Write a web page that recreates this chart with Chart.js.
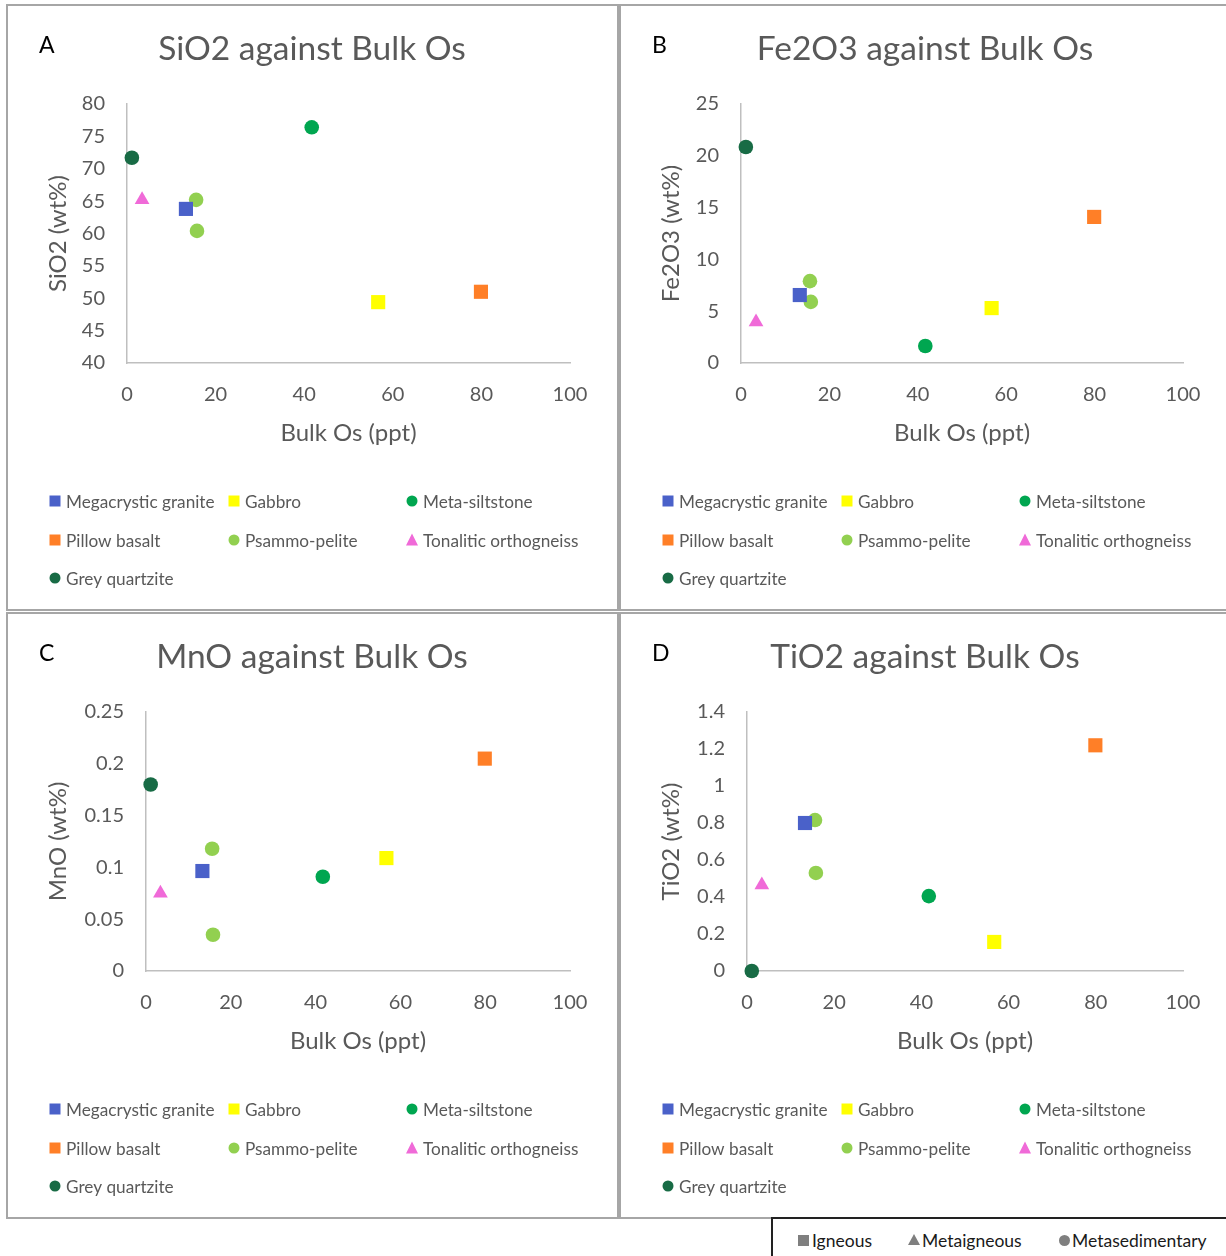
<!DOCTYPE html>
<html>
<head>
<meta charset="utf-8">
<script src="https://cdn.jsdelivr.net/npm/chart.js@4.4.1/dist/chart.umd.min.js"></script>
<style>
  html, body { margin: 0; padding: 0; background: #fff; }
  #page { position: relative; width: 1226px; height: 1256px; overflow: hidden; background: #fff; font-family: Lato, sans-serif; }
  .box { position: absolute; box-sizing: border-box; border: 2px solid #A6A6A6; }
  .cv { position: absolute; }
  #keybox { position: absolute; left: 771px; top: 1217px; width: 470px; height: 50px; box-sizing: border-box; border-top: 2px solid #222; border-left: 2px solid #222; }
  .key { position: absolute; top: 1231px; font-size: 17.5px; color: #1a1a1a; line-height: 20px; }
  .sq { position: absolute; width: 11px; height: 11px; background: #7F7F7F; }
  .ci { position: absolute; width: 11px; height: 11px; border-radius: 50%; background: #7F7F7F; }
  .tr { position: absolute; width: 0; height: 0; border-left: 6px solid transparent; border-right: 6px solid transparent; border-bottom: 11px solid #7F7F7F; }
</style>
</head>
<body>
<div id="page">
  <div class="box" style="left:6px;top:4px;width:613px;height:607px;"></div>
  <div class="box" style="left:619px;top:4px;width:613px;height:607px;"></div>
  <div class="box" style="left:6px;top:612px;width:613px;height:607px;"></div>
  <div class="box" style="left:619px;top:612px;width:613px;height:607px;"></div>
  <canvas class="cv" id="cA" style="left:7px;top:5px;"></canvas>
  <canvas class="cv" id="cB" style="left:620px;top:5px;"></canvas>
  <canvas class="cv" id="cC" style="left:7px;top:613px;"></canvas>
  <canvas class="cv" id="cD" style="left:620px;top:613px;"></canvas>
  <div id="keybox"></div>
  <div class="sq" style="left:798px;top:1235px;"></div>
  <div class="key" style="left:812px;">Igneous</div>
  <div class="tr" style="left:908px;top:1234px;"></div>
  <div class="key" style="left:922px;">Metaigneous</div>
  <div class="ci" style="left:1059px;top:1235px;"></div>
  <div class="key" style="left:1072px;">Metasedimentary</div>
</div>
<script>
// ---- data ----
const seriesNames = ['Megacrystic granite', 'Gabbro', 'Meta-siltstone', 'Pillow basalt', 'Psammo-pelite', 'Tonalitic orthogneiss', 'Grey quartzite'];
const seriesColors = ['#4A61C9', '#FFFF00', '#00A650', '#FF7F27', '#92D050', '#F06AD8', '#186B45'];
const seriesShapes = ['rect', 'rect', 'circle', 'rect', 'circle', 'triangle', 'circle'];
const bulkOs = [[13.3], [56.7], [41.7], [79.9], [15.6, 15.8], [3.4], [1.1]];
const sio2 = [[63.8], [49.4], [76.4], [51.0], [65.2, 60.4], [65.2], [71.7]];
const fe2o3 = [[6.56], [5.3], [1.64], [14.1], [7.9, 5.9], [3.96], [20.85]];
const mno = [[0.0965], [0.109], [0.091], [0.205], [0.118, 0.035], [0.075], [0.18]];
const tio2 = [[0.80], [0.157], [0.405], [1.22], [0.816, 0.53], [0.465], [0.0]];
const xTicks = [0, 20, 40, 60, 80, 100];
const panelLetters = ['A', 'B', 'C', 'D'];
const panelTitles = ['SiO2 against Bulk Os', 'Fe2O3 against Bulk Os', 'MnO against Bulk Os', 'TiO2 against Bulk Os'];
const yTitles = ['SiO2 (wt%)', 'Fe2O3 (wt%)', 'MnO (wt%)', 'TiO2 (wt%)'];
const yRanges = [[40, 80, 5], [0, 25, 5], [0, 0.25, 0.05], [0, 1.4, 0.2]];
const yValues = [sio2, fe2o3, mno, tio2];

// ---- layout ----
const CW = 610, CH = 604;
const chartLefts = [120, 121, 139, 127];
const TEXT = '#595959';
const FONT = 'Lato, sans-serif';

function drawMarker(ctx, shape, x, y, s, color) {
  ctx.save();
  ctx.fillStyle = color;
  ctx.beginPath();
  if (shape === 'rect') {
    ctx.rect(x - s / 2, y - s / 2, s, s);
  } else if (shape === 'circle') {
    ctx.arc(x, y, s / 2, 0, Math.PI * 2);
  } else {
    ctx.moveTo(x, y - s / 2 - 1);
    ctx.lineTo(x + s / 2 + 0.5, y + s / 2);
    ctx.lineTo(x - s / 2 - 0.5, y + s / 2);
    ctx.closePath();
  }
  ctx.fill();
  ctx.restore();
}

const decorPlugin = {
  id: 'decor',
  afterDraw(chart) {
    const ctx = chart.ctx;
    const o = chart.options.plugins.decor;
    ctx.save();
    // panel letter
    ctx.fillStyle = '#000';
    ctx.font = '23px ' + FONT;
    ctx.textBaseline = 'middle';
    ctx.textAlign = 'left';
    ctx.fillText(o.letter, 32, 41);
    // title
    ctx.fillStyle = TEXT;
    ctx.font = '33.5px ' + FONT;
    ctx.textAlign = 'center';
    ctx.fillText(o.title, CW / 2, 44);
    // legend (3-column grid)
    const colMarker = [48, 227, 405];
    const colText = [59, 238, 416];
    const rowY = [496, 535, 573];
    ctx.font = '17.2px ' + FONT;
    ctx.textAlign = 'left';
    chart.data.datasets.forEach((ds, i) => {
      const c = i % 3, r = Math.floor(i / 3);
      drawMarker(ctx, ds.pointStyle, colMarker[c], rowY[r], 11, ds.backgroundColor);
      ctx.fillStyle = TEXT;
      ctx.fillText(ds.label, colText[c], rowY[r] + 1);
    });
    ctx.restore();
  }
};

function fmt(v) { return String(Number(Number(v).toFixed(4))); }

function makeChart(idx, canvasId) {
  const el = document.getElementById(canvasId);
  el.width = CW; el.height = CH;
  el.style.width = CW + 'px'; el.style.height = CH + 'px';
  const ys = yValues[idx];
  const datasets = seriesNames.map((name, i) => ({
    label: name,
    data: bulkOs[i].map((x, j) => ({ x: x, y: ys[i][j] })),
    pointStyle: seriesShapes[i],
    backgroundColor: seriesColors[i],
    borderColor: seriesColors[i],
    borderWidth: 0,
    pointRadius: seriesShapes[i] === 'rect' ? 10 : (seriesShapes[i] === 'triangle' ? 8.5 : 7.3),
    pointHoverRadius: 8,
    clip: false
  }));
  const [ymin, ymax, ystep] = yRanges[idx];
  const left = chartLefts[idx];
  return new Chart(el, {
    type: 'scatter',
    data: { datasets },
    plugins: [decorPlugin],
    options: {
      responsive: false,
      animation: false,
      devicePixelRatio: 1,
      layout: { padding: { left: 0, right: CW - 563, top: 99, bottom: CH - 358 - 100 } },
      plugins: {
        legend: { display: false },
        tooltip: { enabled: false },
        decor: { letter: panelLetters[idx], title: panelTitles[idx] }
      },
      scales: {
        x: {
          type: 'linear', min: 0, max: 100,
          afterBuildTicks: (s) => { s.ticks = xTicks.map(v => ({ value: v })); },
          afterFit: (s) => { s.height = 100; },
          grid: { display: false, drawTicks: false },
          border: { display: true, color: '#BFBFBF', width: 1.5 },
          ticks: { color: TEXT, font: { family: FONT, size: 20 }, padding: 20, maxRotation: 0 },
          title: { display: true, text: 'Bulk Os (ppt)', color: TEXT, font: { family: FONT, size: 24 }, padding: { bottom: 15.5, top: 0 } }
        },
        y: {
          type: 'linear', min: ymin, max: ymax,
          ticks: { stepSize: ystep, color: TEXT, font: { family: FONT, size: 20 }, padding: 22, callback: fmt },
          afterFit: (s) => { s.width = left; },
          grid: { display: false, drawTicks: false },
          border: { display: true, color: '#BFBFBF', width: 1.5 },
          title: { display: true, text: yTitles[idx], color: TEXT, font: { family: FONT, size: 24 }, padding: { top: 36.5, bottom: 0 } }
        }
      }
    }
  });
}

makeChart(0, 'cA');
makeChart(1, 'cB');
makeChart(2, 'cC');
makeChart(3, 'cD');
</script>
</body>
</html>
